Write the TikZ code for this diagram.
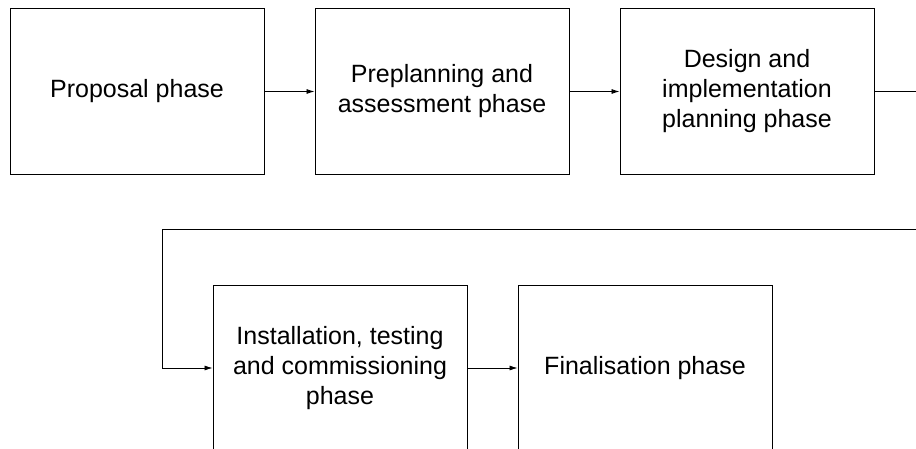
\documentclass[tikz,border=0pt]{standalone}
\usepackage{fontspec}
\setmainfont{Liberation Sans}
\usetikzlibrary{arrows.meta}
\begin{document}
\begin{tikzpicture}[x=1pt,y=-1pt,
  phase/.style={draw=black,line width=0.9pt,minimum width=254pt,minimum height=166pt,
    align=center,inner sep=0pt,font=\fontsize{25}{30}\selectfont,text=black},
  conn/.style={line width=0.8pt,draw=black},
  arr/.style={conn,-{Latex[length=8pt,width=5pt]}}]
\useasboundingbox (0,0) rectangle (916,449);
\clip (0,0) rectangle (916,449);
\node[phase] (p1) at (137,91.5) {Proposal phase};
\node[phase] (p2) at (442,91.5) {Preplanning and\\assessment phase};
\node[phase] (p3) at (747,91.5) {Design and\\implementation\\planning phase};
\node[phase] (p4) at (340,368) {Installation, testing\\and commissioning\\phase};
\node[phase] (p5) at (645,368) {Finalisation phase};
\coordinate (r1) at (940,91.5);
\coordinate (r2) at (940,229);
\coordinate (l1) at (162,229);
\draw[arr] (p1.east) -- (p2.west);
\draw[arr] (p2.east) -- (p3.west);
\draw[arr] (p3.east) -- (r1) -- (r2) -- (l1) |- (p4.west);
\draw[arr] (p4.east) -- (p5.west);
\end{tikzpicture}
\end{document}
